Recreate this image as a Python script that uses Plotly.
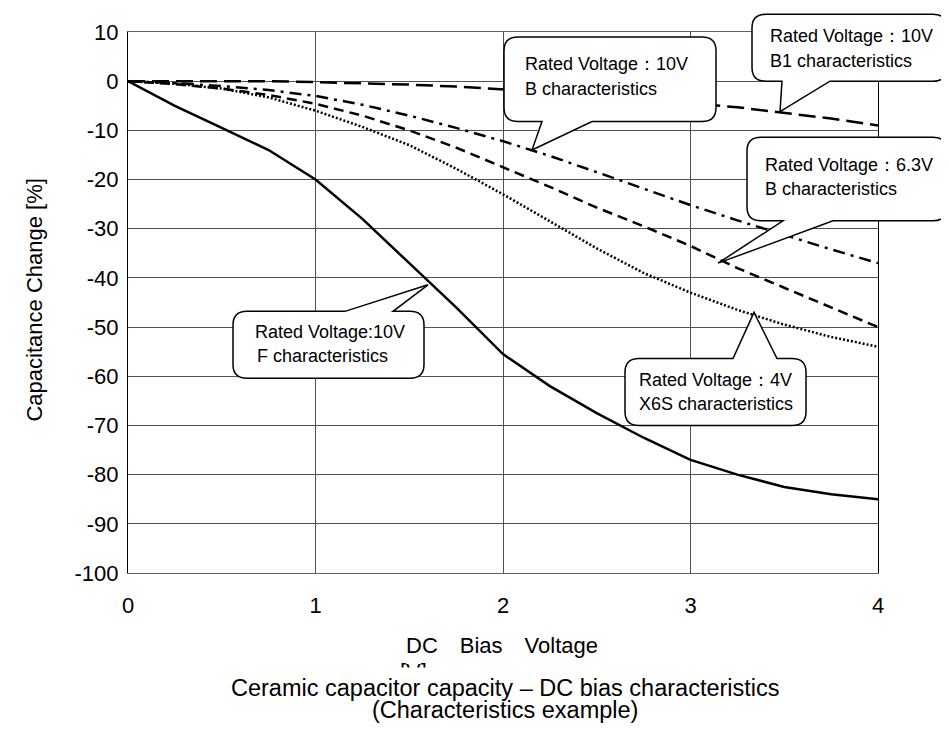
"""Ceramic capacitor DC bias characteristics chart"""

import plotly.graph_objects as go

# DC bias voltage [V]
bias_v = [0, 0.25, 0.5, 0.75, 1, 1.25, 1.5, 1.75, 2, 2.25, 2.5, 2.75, 3, 3.25, 3.5, 3.75, 4]

# capacitance change [%]
f_10v = [0, -5, -9.5, -14, -20, -28, -37, -46, -55.5, -62, -67.5, -72.5, -77, -80, -82.5, -84, -85]
b1_10v = [0, 0, 0, 0, -0.2, -0.4, -0.7, -1.1, -1.6, -2.2, -3, -3.7, -4.5, -5.3, -6.4, -7.6, -9]
b_10v = [0, -0.4, -1, -1.8, -3, -4.8, -7, -9.5, -12.2, -15.2, -18.5, -21.8, -25.2, -28.3, -31.3, -34.2, -37]
b_6v3 = [0, -0.6, -1.5, -2.8, -4.6, -7, -10, -13.5, -17.5, -21.5, -25.7, -29.5, -33.5, -38, -42, -46, -50]
x6s_4v = [0, -0.5, -1.5, -3.3, -6, -9.3, -13, -17.8, -23, -28.5, -34, -39, -43, -46.5, -49.5, -52, -54]

x_ticks = [0, 1, 2, 3, 4]
y_ticks = list(range(10, -101, -10))

FONT = "Liberation Sans, Arial, sans-serif"
W, H = 949, 735
OFF = 8  # page body margin
L, R, T, B = 128, 878, 23, 573  # plot area in page pixels


def px(x):
    return (x - L) / (R - L)


def py(y):
    return (B - y) / (B - T)


def callout(x0, y0, x1, y1, a, b, tip, side, r=14):
    """rounded box with a wedge tail, pixel coords -> paper path"""
    tx, ty = tip
    pts = [("M", x0 + r, y0)]
    if side == "top":
        pts += [("L", a, y0), ("L", tx, ty), ("L", b, y0)]
    pts += [("L", x1 - r, y0), ("Q", x1, y0, x1, y0 + r), ("L", x1, y1 - r), ("Q", x1, y1, x1 - r, y1)]
    if side == "bottom":
        pts += [("L", b, y1), ("L", tx, ty), ("L", a, y1)]
    pts += [("L", x0 + r, y1), ("Q", x0, y1, x0, y1 - r), ("L", x0, y0 + r), ("Q", x0, y0, x0 + r, y0)]
    out = []
    for p in pts:
        cmd, vals = p[0], p[1:]
        coords = [f"{px(vals[i]):.5f},{py(vals[i + 1]):.5f}" for i in range(0, len(vals), 2)]
        out.append(cmd + " " + " ".join(coords))
    return " ".join(out) + " Z"


def label(x, y, text, size, **kw):
    d = dict(x=px(x), y=py(y), xref="paper", yref="paper", text=text, showarrow=False,
             xanchor="center", yanchor="middle", font=dict(family=FONT, size=size, color="black"))
    d.update(kw)
    return d


fig = go.Figure()

line_styles = [
    (f_10v, "F 10V", "solid"),
    (b1_10v, "B1 10V", "17px,7px"),
    (b_10v, "B 10V", "12px,6px,3px,6px"),
    (b_6v3, "B 6.3V", "10px,6px"),
    (x6s_4v, "X6S 4V", "2px,2px"),
]
for ys, name, dash in line_styles:
    fig.add_trace(go.Scatter(
        x=bias_v, y=ys, name=name, mode="lines",
        line=dict(color="black", width=2.5, dash=dash),
        showlegend=False,
    ))

# callouts: box, tail base, tail tip, tail side, text lines
callouts = [
    ((504, 28, 716, 114), (542, 592), (532, 143), "bottom",
     (523, 56, "Rated Voltage：10V"), (523, 81, "B characteristics")),
    ((752, 5, 947, 73), (782, 830), (780, 104), "bottom",
     (768, 27, "Rated Voltage：10V"), (768, 52, "B1 characteristics")),
    ((747, 130, 947, 215), (783, 833), (718, 258), "bottom",
     (763, 158, "Rated Voltage：6.3V"), (763, 183, "B characteristics")),
    ((625, 355, 806, 423), (733, 777), (754, 308), "top",
     (637, 377, "Rated Voltage：4V"), (637, 401, "X6S characteristics")),
    ((233, 307, 424, 375), (345, 393), (428, 280), "top",
     (253, 328, "Rated Voltage:10V"), (255, 352, "F characteristics")),
]

shapes = []
annotations = []
for box, (a, b), tip, side, l1, l2 in callouts:
    shapes.append(dict(
        type="path", xref="paper", yref="paper",
        path=callout(*box, a, b, tip, side),
        line=dict(color="black", width=1.5), fillcolor="white", layer="above",
    ))
    for tx, ty, txt in (l1, l2):
        annotations.append(label(tx, ty, txt, 18, xanchor="left"))

# axis titles and caption
annotations.append(label(35, 296, "Capacitance Change [%]", 22, textangle=-90))
annotations.append(label(502, 647, "DC　Bias　Voltage", 22))
annotations.append(label(398, 658, "[V]", 22, xanchor="left", yanchor="top"))
annotations.append(label(505, 690, "Ceramic capacitor capacity – DC bias characteristics", 23.5,
                         bgcolor="white", borderpad=7))
annotations.append(label(505, 712, "(Characteristics example)", 23.5))

fig.update_layout(
    width=W - OFF, height=H - OFF,
    margin=dict(l=L - OFF, r=W - R, t=T - OFF, b=H - B),
    plot_bgcolor="white", paper_bgcolor="white",
    shapes=shapes, annotations=annotations,
    font=dict(family=FONT, color="black"),
)
fig.update_xaxes(
    range=[0, 4], tickvals=x_ticks, ticktext=[str(v) for v in x_ticks],
    ticks="", ticklabelstandoff=13,
    tickfont=dict(family=FONT, size=22, color="black"),
    showgrid=True, gridcolor="#505050", gridwidth=1,
    showline=True, linecolor="#606060", linewidth=1, mirror=True, zeroline=False,
)
fig.update_yaxes(
    range=[-100, 10], tickvals=y_ticks, ticktext=[str(v) for v in y_ticks],
    ticks="", ticklabelstandoff=4,
    tickfont=dict(family=FONT, size=22, color="black"),
    showgrid=True, gridcolor="#505050", gridwidth=1,
    showline=True, linecolor="black", linewidth=1, mirror=True, zeroline=False,
)

fig.write_html("out.html")
